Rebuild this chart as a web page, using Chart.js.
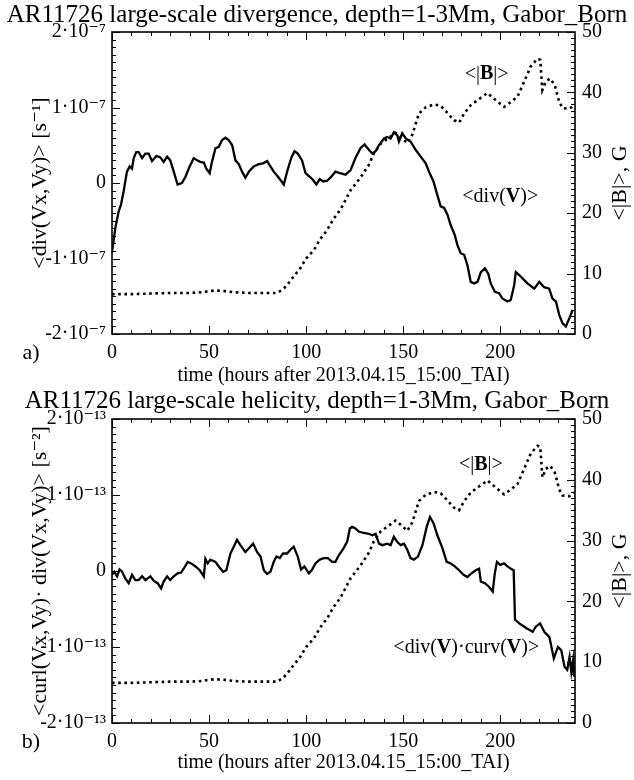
<!DOCTYPE html>
<html>
<head>
<meta charset="utf-8">
<script src="https://cdn.jsdelivr.net/npm/chart.js@4.4.0/dist/chart.umd.min.js"></script>
<style>
    body { margin: 0; background: #fff; }
    #cajaA { position: absolute; left: 0; top: 0; width: 634px; height: 390px; }
    #cajaB { position: absolute; left: 0; top: 386px; width: 634px; height: 394px; }
</style>
</head>
<body>
<div id="cajaA"><canvas id="graficoA"></canvas></div>
<div id="cajaB"><canvas id="graficoB"></canvas></div>
<script>
// ejes
const horasTicks = [0, 50, 100, 150, 200];
const izqTicks = [-2, -1, 0, 1, 2];
const bTicks = [0, 10, 20, 30, 40, 50];
const divTickLabels = ['-2·10⁻⁷', '-1·10⁻⁷', '0', '1·10⁻⁷', '2·10⁻⁷'];
const helTickLabels = ['-2·10⁻¹³', '-1·10⁻¹³', '0', '1·10⁻¹³', '2·10⁻¹³'];

// <div(V)>  (unidades de 1e-7 s^-1)
const divHoras = [0, 1.7, 3.4, 4.6, 6, 7.7, 9.1, 10.3, 11.2, 12.5, 13.7, 15.5, 17.2, 18.9, 20.6, 22.9, 24.9, 26.6, 28.4, 30,
    31.8, 33.8, 36, 37.8, 40, 42.1, 43.8, 45.5, 47.3, 48.6, 50.3, 51.5, 53.3, 55, 56.7, 58.4, 60.1, 61.9, 63.6, 65.3,
    67, 68.7, 70.5, 73, 75.6, 77.8, 79.9, 81.6, 83.3, 85, 86.8, 88.5, 90.2, 92.3, 94, 95.7, 97.9, 99.7, 101.9, 103.6,
    105.3, 107, 108.8, 110.8, 112.5, 115.1, 117.4, 120.3, 122.9, 125.4, 128, 130.1, 132.3, 134.1, 135.8, 137.5, 140.1, 141.8, 143.5, 145.2,
    147, 147.8, 149.5, 151.3, 153.8, 156.4, 159, 161.6, 163.3, 165.6, 167.6, 169.3, 171.1, 172.8, 174.5, 176.6, 177.9, 179.6, 181.4, 183.1,
    184.8, 186.5, 188.3, 190, 192.1, 193.8, 195.1, 197.2, 199.4, 201.1, 203.7, 205.4, 207.2, 208, 210.6, 214, 217.5, 220.1, 222.6, 225.2,
    226.9, 228.7, 230.4, 232.1, 233.8, 235.6, 237.3];
const divValores = [-0.92, -0.6, -0.38, -0.29, -0.11, 0.15, 0.22, 0.19, 0.33, 0.41, 0.41, 0.33, 0.39, 0.39, 0.29, 0.36, 0.34, 0.28, 0.35, 0.30,
    0.15, -0.02, 0, 0.08, 0.22, 0.33, 0.30, 0.28, 0.27, 0.19, 0.13, 0.28, 0.46, 0.48, 0.57, 0.60, 0.57, 0.50, 0.30, 0.25,
    0.15, 0.07, 0.15, 0.22, 0.25, 0.26, 0.29, 0.22, 0.15, 0.10, 0.04, -0.02, 0.15, 0.33, 0.42, 0.39, 0.30, 0.13, 0.08, 0.04,
    -0.02, 0.05, 0.02, 0.03, 0.07, 0.15, 0.13, 0.11, 0.17, 0.33, 0.46, 0.51, 0.44, 0.39, 0.42, 0.50, 0.59, 0.61, 0.59, 0.67,
    0.63, 0.55, 0.66, 0.59, 0.55, 0.44, 0.35, 0.26, 0.15, 0.02, -0.16, -0.31, -0.33, -0.42, -0.56, -0.69, -0.82, -0.93, -0.95, -1.09,
    -1.31, -1.33, -1.31, -1.18, -1.13, -1.2, -1.33, -1.44, -1.46, -1.53, -1.57, -1.55, -1.35, -1.18, -1.24, -1.33, -1.40, -1.31, -1.38, -1.40,
    -1.53, -1.57, -1.75, -1.86, -1.90, -1.79, -1.68];

// <div(V)·curv(V)>  (unidades de 1e-13 s^-2)
const helHoras = [0, 1.2, 2.6, 3.9, 5.2, 6.9, 8.6, 10.3, 12, 13.7, 15.5, 17.2, 19.8, 21.5, 23.5, 25.3, 26.6, 28.4, 30, 31.8,
    33.8, 35.6, 36.9, 39, 40.8, 43, 45.2, 47.3, 48.1, 49.3, 50.7, 53.3, 55, 57.2, 58.9, 61, 62.7, 64.4, 66.1, 68.7,
    70.9, 72.7, 74.7, 76.5, 78.2, 79.9, 81.6, 83.3, 84.7, 86.4, 88.1, 90.2, 91.9, 93.6, 95.7, 97.4, 99.1, 101.4, 103.1, 104.8,
    107, 109.1, 111.2, 113.4, 115.1, 116.9, 119.1, 121.2, 122.5, 123.7, 125.4, 127.1, 129.7, 132.3, 134.1, 135.8, 137.5, 139.2, 141.8, 143.5,
    145.2, 147, 148.7, 150.4, 152.1, 153.8, 155.5, 157.6, 159.9, 162.1, 163.8, 165.6, 167.6, 170.2, 172.4, 174.5, 176.6, 178.8, 181.1, 183.1,
    185.2, 187.4, 189.1, 190, 192.1, 194.3, 196.1, 197.2, 198.3, 200, 202, 203.7, 205.5, 206.9, 207.6, 209.8, 213.3, 216.7, 218.4, 220.5,
    222.7, 225.3, 227.6, 229.7, 231.4, 233.1, 234.5, 235.7, 236.6, 237.5, 238];
const helValores = [-0.05, -0.01, -0.07, 0.02, -0.01, -0.10, -0.16, -0.05, -0.12, -0.12, -0.07, -0.12, -0.07, -0.13, -0.16, -0.23, -0.14, -0.07, -0.12, -0.07,
    -0.03, -0.02, 0.03, 0.12, 0.10, 0.06, 0.01, -0.07, 0.16, 0.10, 0.15, 0.12, 0.06, -0.01, 0.01, 0.23, 0.32, 0.41, 0.34, 0.25,
    0.31, 0.36, 0.25, 0.19, 0.01, -0.04, -0.01, 0.12, 0.19, 0.17, 0.23, 0.23, 0.28, 0.32, 0.19, 0.02, 0.06, -0.03, 0.02, 0.10,
    0.15, 0.17, 0.17, 0.12, 0.12, 0.21, 0.29, 0.39, 0.56, 0.58, 0.56, 0.52, 0.50, 0.49, 0.47, 0.49, 0.36, 0.34, 0.36, 0.34,
    0.45, 0.38, 0.34, 0.36, 0.28, 0.17, 0.15, 0.19, 0.34, 0.58, 0.71, 0.63, 0.47, 0.30, 0.12, 0.10, 0.06, 0.01, -0.05, -0.08,
    -0.03, 0.01, 0.03, -0.14, -0.16, -0.21, -0.27, -0.03, 0.12, 0.08, 0.10, 0.06, 0.03, 0.01, -0.64, -0.69, -0.75, -0.80, -0.73, -0.69,
    -0.80, -0.87, -1.15, -1.00, -1.04, -1.26, -1.30, -1.13, -1.33, -1.17, -1.39];

// <|B|> en G (igual en los dos paneles)
const bHoras = [0, 10, 20, 30, 40, 46, 50, 53, 58, 63, 70, 78, 85, 87.6, 90, 92, 95, 97, 100, 104,
    107, 110.8, 114, 117.7, 122.9, 128, 132.3, 134.9, 138.4, 142.7, 146.1, 149.5, 152.1, 154.7, 158.1, 161.5, 165.8, 169.3, 172.8, 176.2,
    178.8, 181.4, 184.8, 189.1, 193.4, 197.7, 202, 205.4, 208.9, 212.3, 215.7, 219.2, 220.6, 221.7, 223.5, 225.7, 228.1, 230.4, 232.1, 235.6, 238.2];
const bValores = [6.6, 6.6, 6.7, 6.8, 6.8, 6.9, 7.1, 7.2, 7.1, 6.9, 6.8, 6.8, 6.8, 7.3, 8.0, 8.9, 10.1, 10.9, 12.5, 13.9,
    15.6, 17.2, 19.0, 20.6, 23.8, 25.9, 28.0, 29.9, 31.5, 32.5, 33.3, 32.4, 31.6, 33.0, 36.5, 37.5, 38.0, 37.8, 36.6, 35.4,
    35.0, 36.5, 37.9, 38.9, 39.9, 38.7, 37.6, 38.4, 39.3, 41.8, 44.3, 45.6, 45.4, 40.4, 41.8, 42.3, 41.2, 38.4, 37.4, 37.3, 37.9];

const FUENTE = "'Liberation Serif', 'Times New Roman', 'DejaVu Serif', serif";
Chart.defaults.font.family = FUENTE;
Chart.defaults.color = '#000';

const puntos = (xs, ys) => xs.map((x, i) => ({ x: x, y: ys[i] }));

// marco con marcas hacia dentro (estilo IDL)
const marcoPlugin = {
    id: 'marco',
    afterDraw(chart) {
        const { ctx, chartArea: a, scales } = chart;
        const linea = (x1, y1, x2, y2) => { ctx.beginPath(); ctx.moveTo(x1, y1); ctx.lineTo(x2, y2); ctx.stroke(); };
        ctx.save();
        ctx.strokeStyle = '#000';
        ctx.lineWidth = 1;
        for (let v = 0; v <= scales.x.max; v += 10) {
            const px = Math.round(scales.x.getPixelForValue(v)) + 0.5;
            const l = v % 50 === 0 ? 8 : 4;
            linea(px, a.bottom, px, a.bottom - l);
            linea(px, a.top, px, a.top + l);
        }
        for (let i = -20; i <= 20; i++) {
            const py = Math.round(scales.y.getPixelForValue(i / 10)) + 0.5;
            linea(a.left, py, a.left + (i % 10 === 0 ? 8 : 4), py);
        }
        for (let v = 0; v <= 50; v++) {
            const py = Math.round(scales.yB.getPixelForValue(v)) + 0.5;
            linea(a.right, py, a.right - (v % 10 === 0 ? 8 : 4), py);
        }
        ctx.lineWidth = 1.6;
        ctx.strokeRect(a.left, a.top, a.right - a.left, a.bottom - a.top);
        ctx.restore();
    }
};

// textos con partes en negrita
const escribir = (ctx, partes, x, y, tam) => {
    let ancho = 0;
    partes.forEach(p => {
        ctx.font = (p[1] ? 'bold ' : '') + tam + 'px ' + FUENTE;
        ancho += ctx.measureText(p[0]).width;
    });
    let cx = x - ancho / 2;
    partes.forEach(p => {
        ctx.font = (p[1] ? 'bold ' : '') + tam + 'px ' + FUENTE;
        ctx.fillText(p[0], cx, y);
        cx += ctx.measureText(p[0]).width;
    });
};

const textosPlugin = {
    id: 'textos',
    afterDraw(chart, args, opts) {
        const { ctx, chartArea: a, scales } = chart;
        ctx.save();
        ctx.fillStyle = '#000';
        ctx.textAlign = 'left';
        ctx.textBaseline = 'middle';
        opts.etiquetas.forEach(et => {
            escribir(ctx, et.partes, scales.x.getPixelForValue(et.x), scales.yB.getPixelForValue(et.y), 20);
        });
        // titulo del eje derecho
        ctx.save();
        ctx.translate(a.right + 45, (a.top + a.bottom) / 2);
        ctx.rotate(-Math.PI / 2);
        escribir(ctx, [['<|B|>, G', false]], 0, 0, 22);
        ctx.restore();
        // a) / b)
        escribir(ctx, [[opts.panel, false]], a.left - 81, a.bottom + 19, 22);
        ctx.restore();
    }
};

const crearGrafica = (id, p) => new Chart(document.getElementById(id), {
    type: 'line',
    data: {
        datasets: [{
            label: '<|B|>',
            data: puntos(bHoras, bValores),
            yAxisID: 'yB',
            borderColor: '#000',
            borderWidth: 2.6,
            borderDash: [2.6, 3.6],
            pointRadius: 0,
            tension: 0
        }, {
            label: p.serie,
            data: puntos(p.horas, p.valores),
            yAxisID: 'y',
            borderColor: '#000',
            borderWidth: 2.3,
            pointRadius: 0,
            tension: 0
        }]
    },
    options: {
        responsive: true,
        maintainAspectRatio: false,
        animation: false,
        devicePixelRatio: 1,
        layout: { padding: 0 },
        plugins: {
            legend: { display: false },
            tooltip: { enabled: false },
            title: {
                display: true,
                text: p.titulo,
                font: { size: 25, weight: 'normal' },
                color: '#000',
                padding: { top: 0, bottom: p.tituloPad }
            },
            textos: { etiquetas: p.etiquetas, panel: p.panel }
        },
        scales: {
            x: {
                type: 'linear',
                position: 'bottom',
                min: 0,
                max: 238.5,
                afterBuildTicks: sc => { sc.ticks = horasTicks.map(v => ({ value: v })); },
                ticks: { font: { size: 20 }, color: '#000', padding: 7, maxRotation: 0, autoSkip: false },
                grid: { display: false, drawTicks: false },
                border: { display: false },
                title: {
                    display: true,
                    text: 'time (hours after 2013.04.15_15:00_TAI)',
                    font: { size: 20 },
                    color: '#000',
                    padding: { top: 0, bottom: p.xTituloPad }
                },
                afterFit: sc => { sc.height = p.altoX; }
            },
            y: {
                position: 'left',
                min: -2,
                max: 2,
                afterBuildTicks: sc => { sc.ticks = izqTicks.map(v => ({ value: v })); },
                ticks: { font: { size: 20 }, color: '#000', padding: 6, callback: v => p.tickLabels[izqTicks.indexOf(v)] },
                grid: { display: false, drawTicks: false },
                border: { display: false },
                title: {
                    display: true,
                    text: p.yTitulo,
                    font: { size: 22 },
                    color: '#000',
                    padding: { top: 27.5, bottom: 0 }
                },
                afterFit: sc => { sc.width = 112; }
            },
            yB: {
                position: 'right',
                min: 0,
                max: 50,
                afterBuildTicks: sc => { sc.ticks = bTicks.map(v => ({ value: v })); },
                ticks: { font: { size: 20 }, color: '#000', padding: 7 },
                grid: { display: false, drawTicks: false },
                border: { display: false },
                afterFit: sc => { sc.width = 59; }
            }
        }
    },
    plugins: [marcoPlugin, textosPlugin]
});

crearGrafica('graficoA', {
    titulo: 'AR11726 large-scale divergence, depth=1-3Mm, Gabor_Born',
    tituloPad: 2,
    serie: '<div(V)>',
    horas: divHoras,
    valores: divValores,
    tickLabels: divTickLabels,
    yTitulo: '<div(Vx,Vy)> [s⁻¹]',
    altoX: 56,
    xTituloPad: 2,
    panel: 'a)',
    etiquetas: [
        { x: 193, y: 43, partes: [['<|', false], ['B', true], ['|>', false]] },
        { x: 200, y: 22.7, partes: [['<div(', false], ['V', true], [')>', false]] }
    ]
});

crearGrafica('graficoB', {
    titulo: 'AR11726 large-scale helicity, depth=1-3Mm, Gabor_Born',
    tituloPad: 3,
    serie: '<div(V)·curv(V)>',
    horas: helHoras,
    valores: helValores,
    tickLabels: helTickLabels,
    yTitulo: '<curl(Vx,Vy)· div(Vx,Vy)> [s⁻²]',
    altoX: 57,
    xTituloPad: 5,
    panel: 'b)',
    etiquetas: [
        { x: 190, y: 42.4, partes: [['<|', false], ['B', true], ['|>', false]] },
        { x: 182.5, y: 12.3, partes: [['<div(', false], ['V', true], [')·curv(', false], ['V', true], [')>', false]] }
    ]
});
</script>
</body>
</html>
